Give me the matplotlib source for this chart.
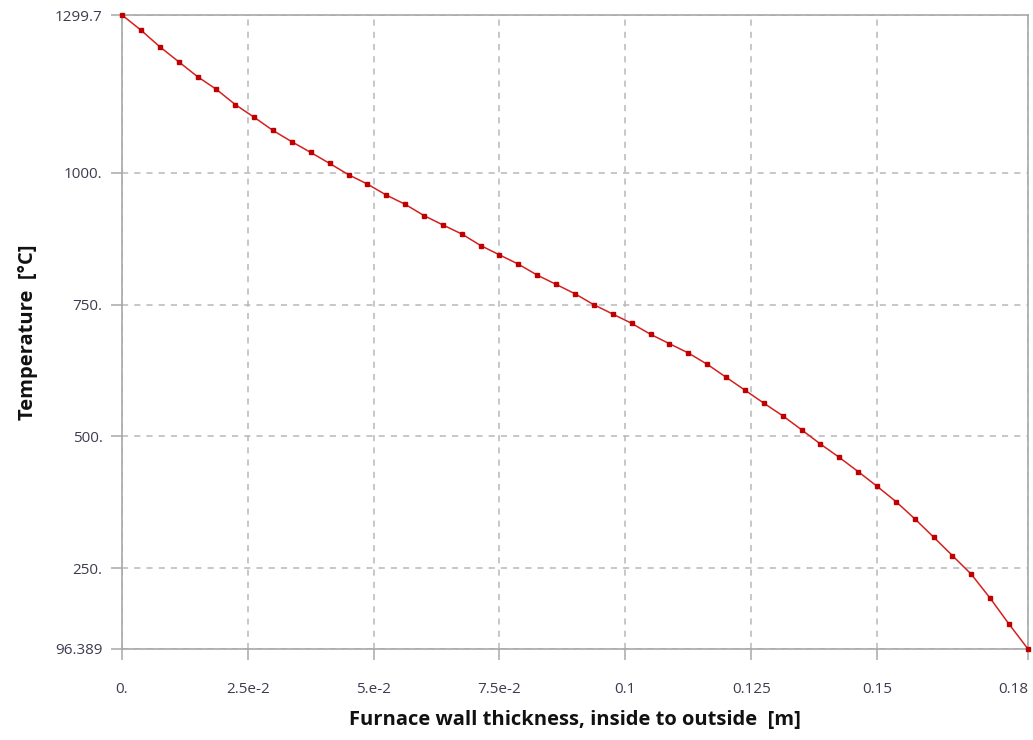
import numpy as np
import matplotlib
matplotlib.use("Agg")
from matplotlib import pyplot as plt

# temperature profile through the furnace wall, 49 nodes from inside to outside
thickness_max = 0.18
n_nodes = 49
temperature = [
    1299.7, 1271.1, 1239.5, 1211.1, 1182.7, 1158.6, 1129.7, 1105.6, 1080.5, 1059.1,
    1038.8, 1018.0, 996.6, 978.8, 958.0, 940.4, 919.0, 901.2, 884.1, 862.2,
    844.4, 826.8, 806.0, 788.4, 770.6, 749.8, 732.1, 714.5, 693.7, 675.9,
    658.3, 636.9, 612.3, 587.7, 563.1, 539.1, 512.6, 485.5, 460.1, 433.1,
    405.3, 376.3, 343.5, 308.7, 273.5, 238.1, 192.6, 143.4, 96.389,
]
x_ticks = [0.0, 0.025, 0.05, 0.075, 0.1, 0.125, 0.15, 0.18]
x_labels = ["0.", "2.5e-2", "5.e-2", "7.5e-2", "0.1", "0.125", "0.15", "0.18"]
y_ticks = [96.389, 250, 500, 750, 1000, 1299.7]
y_labels = ["96.389", "250.", "500.", "750.", "1000.", "1299.7"]

position = np.linspace(0.0, thickness_max, n_nodes)

plt.rcParams["font.family"] = ["Open Sans", "DejaVu Sans"]

fig = plt.figure(figsize=(10.33, 7.4), dpi=100)
ax = fig.add_axes([122 / 1033, 1 - 649 / 740, 906 / 1033, 634 / 740])

ax.plot(position, temperature, color="#d42020", lw=1.1, marker="s",
        markersize=3.3, markerfacecolor="#c00000", markeredgecolor="#c00000",
        zorder=3, clip_on=False)

ax.set_xlim(0, thickness_max)
ax.set_ylim(min(temperature), max(temperature))

ax.set_xticks(x_ticks)
ax.set_xticklabels(x_labels)
ax.set_yticks(y_ticks)
ax.set_yticklabels(y_labels)

labels = ax.get_xticklabels()
labels[-1].set_horizontalalignment("right")
labels[-1].set_x(thickness_max)

ax.grid(True, color="#b8b8b8", linestyle=(0, (4, 4)), linewidth=1.1)
for side in ["left", "right", "top", "bottom"]:
    ax.spines[side].set_color("#a8a8a8")
    ax.spines[side].set_linewidth(1.2)

ax.tick_params(axis="both", colors="#a8a8a8", labelcolor="#3c3c50",
               labelsize=11, length=8, width=1.1)
ax.tick_params(axis="x", pad=16)
ax.tick_params(axis="y", pad=6)

ax.set_xlabel("Furnace wall thickness, inside to outside  [m]",
              fontsize=14.5, fontweight="bold", color="#111111", labelpad=9)
ax.set_ylabel("Temperature  [°C]", fontsize=14.5, fontweight="bold",
              color="#111111", labelpad=12)

fig.savefig("out.png", dpi=100, facecolor="white")
